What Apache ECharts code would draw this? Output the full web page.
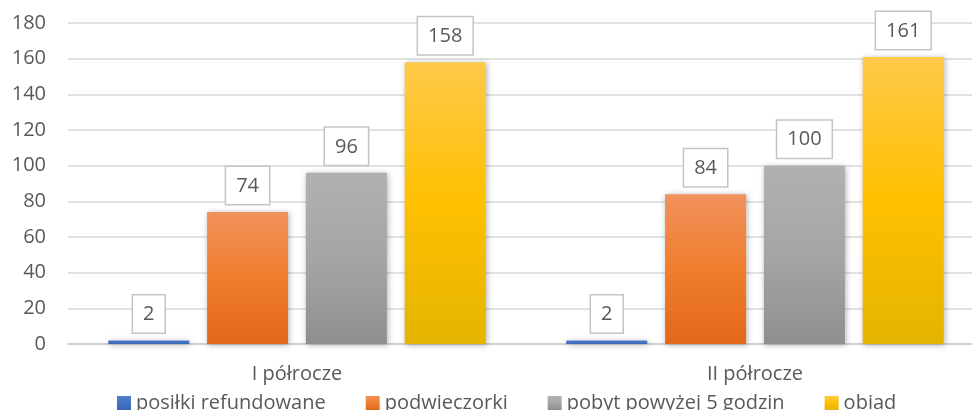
<!DOCTYPE html>
<html>
<head>
<meta charset="utf-8">
<script src="https://cdn.jsdelivr.net/npm/echarts@6/dist/echarts.min.js"></script>
<style>
  html, body { margin: 0; padding: 0; background: #fff; }
  #main { width: 972px; height: 410px; }
</style>
</head>
<body>
<div id="main"></div>
<script>
var categories = ['I półrocze', 'II półrocze'];
var seriesNames = ['posiłki refundowane', 'podwieczorki', 'pobyt powyżej 5 godzin', 'obiad'];
var posilki = [2, 2];
var podwieczorki = [74, 84];
var pobyt = [96, 100];
var obiad = [158, 161];

var chartDom = document.getElementById('main');
var myChart = echarts.init(chartDom);
var option;

function grad(top, mid, bottom) {
    return new echarts.graphic.LinearGradient(0, 0, 0, 1, [
        { offset: 0, color: top },
        { offset: 0.5, color: mid },
        { offset: 1, color: bottom }
    ]);
}

var colors = [
    grad('#4f7fd0', '#4472c4', '#3a66b4'),
    grad('#f1925c', '#f07d2e', '#e2681b'),
    grad('#b1b1b1', '#a5a5a5', '#8f8f8f'),
    grad('#ffc94a', '#ffc000', '#e4b400')
];

var fontFamily = '"Open Sans", sans-serif';

function makeSeries(name, data, i) {
    return {
        name: name,
        type: 'bar',
        data: data,
        barWidth: 81,
        barGap: '22%',
        itemStyle: {
            color: colors[i],
            shadowBlur: 6,
            shadowColor: 'rgba(0,0,0,0.3)',
            shadowOffsetX: 1,
            shadowOffsetY: 1
        },
        label: {
            show: true,
            position: 'top',
            distance: 8,
            fontFamily: fontFamily,
            fontSize: 20,
            color: '#595959',
            backgroundColor: '#fff',
            borderColor: '#c4c4c4',
            borderWidth: 1.5,
            padding: [9, 10, 8, 10]
        }
    };
}

option = {
    animation: false,
    textStyle: { fontFamily: fontFamily },
    // plot area runs a little past the right edge, as in the original
    grid: {
        left: 68,
        right: -12,
        top: 23,
        bottom: 66,
        outerBoundsMode: 'none'
    },
    legend: {
        data: seriesNames,
        left: 112,
        top: 388,
        icon: 'rect',
        itemWidth: 14,
        itemHeight: 14,
        itemGap: 40,
        textStyle: { fontFamily: fontFamily, fontSize: 20, color: '#595959' }
    },
    xAxis: {
        type: 'category',
        data: categories,
        axisTick: { show: false },
        axisLine: { lineStyle: { color: '#d0d0d0', width: 2 } },
        axisLabel: { fontFamily: fontFamily, fontSize: 20, color: '#595959', margin: 20 }
    },
    yAxis: {
        type: 'value',
        min: 0,
        max: 180,
        interval: 20,
        axisLine: { show: false },
        axisTick: { show: false },
        axisLabel: { fontFamily: fontFamily, fontSize: 20, color: '#595959', margin: 22 },
        splitLine: { lineStyle: { color: '#d9d9d9', width: 1.5 } }
    },
    series: [
        makeSeries(seriesNames[0], posilki, 0),
        makeSeries(seriesNames[1], podwieczorki, 1),
        makeSeries(seriesNames[2], pobyt, 2),
        makeSeries(seriesNames[3], obiad, 3)
    ]
};

option && myChart.setOption(option);
</script>
</body>
</html>
